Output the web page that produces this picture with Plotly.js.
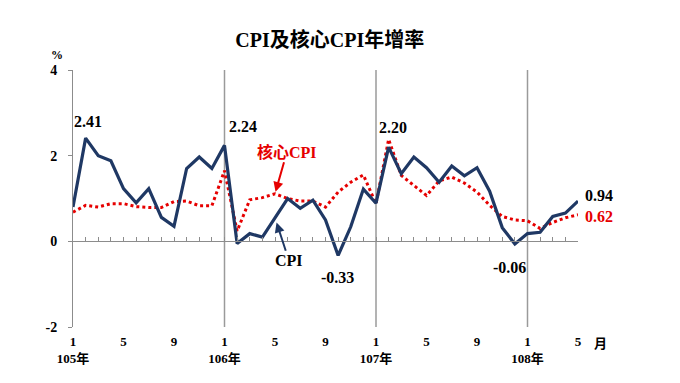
<!DOCTYPE html>
<html>
<head>
<meta charset="utf-8">
<script src="https://cdn.plot.ly/plotly-3.0.1.min.js"></script>
<style>html,body{margin:0;padding:0;background:#fff;}#chart{width:680px;height:383px;}</style>
</head>
<body>
<div id="chart"></div>
<script>
// ---- data ----
const years = ["105年", "106年", "107年", "108年"];
const monthsShown = ["1", "5", "9"];
const monthUnit = "月";
const cpi = [0.80, 2.41, 2.00, 1.88, 1.23, 0.90, 1.23, 0.56, 0.35, 1.70, 1.97, 1.70,
             2.24, -0.05, 0.18, 0.10, 0.55, 1.00, 0.77, 0.96, 0.50, -0.33, 0.34, 1.22,
             0.89, 2.20, 1.58, 1.97, 1.72, 1.38, 1.76, 1.53, 1.72, 1.17, 0.32, -0.06,
             0.18, 0.21, 0.58, 0.66, 0.94];
const coreCpi = [0.68, 0.84, 0.80, 0.88, 0.88, 0.81, 0.79, 0.79, 0.93, 0.94, 0.83, 0.83,
                 1.65, 0.24, 0.97, 1.02, 1.11, 1.00, 0.94, 0.94, 0.80, 1.15, 1.38, 1.55,
                 0.88, 2.38, 1.54, 1.31, 1.07, 1.41, 1.50, 1.36, 1.15, 0.84, 0.58, 0.50,
                 0.48, 0.30, 0.44, 0.55, 0.62];
const yTicks = [-2, 0, 2, 4];
const titleText = "CPI及核心CPI年增率";
const cpiName = "CPI";
const coreName = "核心CPI";

// ---- derived ----
const n = cpi.length;
const xIdx = cpi.map((_, i) => i);
const tickVals = [], tickText = [];
for (let i = 0; i < n; i += 4) {
  tickVals.push(i);
  const m = monthsShown[(i / 4) % 3];
  tickText.push(i % 12 === 0 ? m + "<br>" + years[i / 12] : m);
}
const yearStarts = [];
for (let i = 12; i < n; i += 12) yearStarts.push(i);

const FONT = "'Liberation Serif', 'Times New Roman', 'Noto Sans CJK TC', serif";
const NAVY = "#1f3864";
const RED = "#e60000";
const AXC = "#8c8c8c";

const traces = [
  { x: xIdx, y: coreCpi, type: "scatter", mode: "lines", name: coreName, xaxis: "x", yaxis: "y",
    line: { color: RED, width: 3, dash: "dot" }, hoverinfo: "skip" },
  { x: xIdx, y: cpi, type: "scatter", mode: "lines", name: cpiName, xaxis: "x2", yaxis: "y",
    line: { color: NAVY, width: 3.2 }, hoverinfo: "skip" }
];

function valLabel(i, arr, dx, dy, color, anchor) {
  return { x: i, y: arr[i], xref: "x", yref: "y", text: arr[i].toFixed(2), showarrow: false,
           xshift: dx, yshift: dy, xanchor: anchor || "center", yanchor: "middle",
           font: { family: FONT, size: 16, color: color, weight: "bold" } };
}

const annotations = [
  valLabel(1, cpi, 2, 17, "#000"),
  valLabel(12, cpi, 18, 19, "#000"),
  valLabel(25, cpi, 4, 20, "#000"),
  valLabel(21, cpi, -1, -22, "#000"),
  valLabel(35, cpi, -5, -24, "#000"),
  valLabel(n - 1, cpi, 5, 6, "#000", "left"),
  valLabel(n - 1, coreCpi, 5, -2, RED, "left"),
  { x: 16, y: coreCpi[16], xref: "x", yref: "y", text: coreName, showarrow: true,
    ax: 12, ay: -42, arrowcolor: RED, arrowwidth: 2, arrowhead: 2, arrowsize: 1, standoff: 2,
    font: { family: FONT, size: 16, color: RED, weight: "bold" } },
  { x: 16, y: cpi[16], xref: "x", yref: "y", text: cpiName, showarrow: true,
    ax: 14, ay: 43, arrowcolor: NAVY, arrowwidth: 2, arrowhead: 2, arrowsize: 1, standoff: 5,
    font: { family: FONT, size: 16, color: "#000", weight: "bold" } },
  { x: 0, y: 1, xref: "paper", yref: "paper", text: "%", showarrow: false,
    xanchor: "center", yanchor: "middle",
    xshift: -16, yshift: 15, font: { family: FONT, size: 12, color: "#000", weight: "bold" } },
  { x: n - 1, y: 0, xref: "x", yref: "paper", text: monthUnit, showarrow: false,
    xanchor: "center", yanchor: "middle",
    xshift: 22, yshift: -16, font: { family: FONT, size: 13, color: "#000", weight: "bold" } }
];

const shapes = yearStarts.map(v => ({
  type: "line", xref: "x", yref: "paper", x0: v, x1: v, y0: 0, y1: 1,
  line: { color: "#9a9a9a", width: 1.5 }, layer: "below"
}));

const layout = {
  width: 680, height: 383,
  margin: { l: 73, r: 102, t: 70, b: 56 },
  paper_bgcolor: "#fff", plot_bgcolor: "#fff",
  showlegend: false,
  title: { text: titleText, xref: "container", yref: "container", x: 0.485, y: 0.895,
           xanchor: "center", yanchor: "middle",
           font: { family: FONT, size: 20, color: "#000", weight: "bold" } },
  xaxis: { range: [0, n - 1], side: "bottom", anchor: "y",
           tickmode: "array", tickvals: tickVals, ticktext: tickText,
           showline: false, ticks: "", showgrid: false, zeroline: false,
           ticklabelstandoff: 5,
           tickfont: { family: FONT, size: 13, color: "#000", weight: "bold" } },
  xaxis2: { overlaying: "x", anchor: "free", position: 1 / 3, side: "bottom",
            range: [0, n - 1], showline: true, linecolor: AXC, linewidth: 1,
            ticks: "inside", ticklen: 4, tickcolor: AXC, tickwidth: 1, tick0: 0, dtick: 1,
            showticklabels: false, showgrid: false, zeroline: false },
  yaxis: { range: [-2, 4], tickmode: "array", tickvals: yTicks, ticktext: yTicks.map(String),
           showline: true, linecolor: AXC, linewidth: 1, ticks: "outside", ticklen: 4,
           tickcolor: AXC, showgrid: false, zeroline: false, ticklabelstandoff: 8,
           tickfont: { family: FONT, size: 14, color: "#000", weight: "bold" } },
  annotations: annotations,
  shapes: shapes
};

Plotly.newPlot("chart", traces, layout, { staticPlot: true, displayModeBar: false });
</script>
</body>
</html>
